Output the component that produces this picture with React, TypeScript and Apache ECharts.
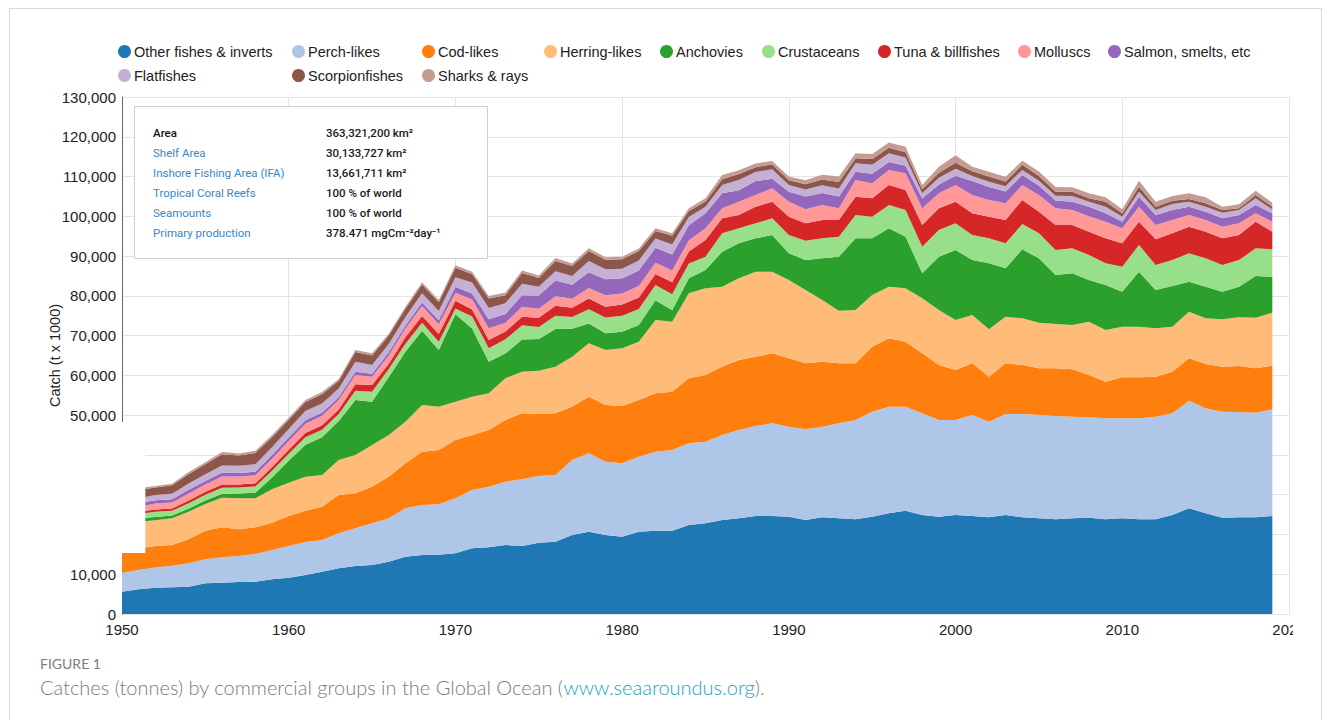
import React, { useEffect, useRef } from "react";
import * as echarts from "echarts";

const years = [
  1950, 1951, 1952, 1953, 1954, 1955, 1956, 1957, 1958, 1959,
  1960, 1961, 1962, 1963, 1964, 1965, 1966, 1967, 1968, 1969,
  1970, 1971, 1972, 1973, 1974, 1975, 1976, 1977, 1978, 1979,
  1980, 1981, 1982, 1983, 1984, 1985, 1986, 1987, 1988, 1989,
  1990, 1991, 1992, 1993, 1994, 1995, 1996, 1997, 1998, 1999,
  2000, 2001, 2002, 2003, 2004, 2005, 2006, 2007, 2008, 2009,
  2010, 2011, 2012, 2013, 2014, 2015, 2016, 2017, 2018, 2019,
];
// the axis runs one year past the data
const axisYears = [...years, 2020];

const seriesNames = [
  "Other fishes & inverts", "Perch-likes", "Cod-likes", "Herring-likes",
  "Anchovies", "Crustaceans", "Tuna & billfishes", "Molluscs",
  "Salmon, smelts, etc", "Flatfishes", "Scorpionfishes", "Sharks & rays",
];

const seriesColors = [
  "#1f77b4", "#aec7e8", "#ff7f0e", "#ffbb78", "#2ca02c", "#98df8a",
  "#d62728", "#ff9896", "#9467bd", "#c5b0d5", "#8c564b", "#c49c94",
];

const otherFishes = [
  5600, 6200, 6600, 6700, 6870, 7710, 7880, 8040, 8130, 8710,
  9130, 9800, 10640, 11480, 12060, 12320, 13160, 14410, 14830, 14900,
  15250, 16510, 16760, 17350, 17100, 17930, 18180, 19860, 20700, 19860,
  19440, 20700, 20950, 20950, 22370, 22790, 23630, 24050, 24640, 24640,
  24470, 23630, 24300, 24050, 23800, 24470, 25310, 25980, 24890, 24470,
  24890, 24640, 24300, 24890, 24300, 24050, 23800, 24050, 24220, 23800,
  24050, 23800, 23800, 24890, 26570, 25310, 24220, 24300, 24300, 24640,
];
const perchLikes = [
  4800, 4860, 5100, 5450, 5870, 6030, 6370, 6540, 6960, 7380,
  7970, 8300, 7960, 8800, 9480, 10480, 10890, 12160, 12570, 12670,
  13830, 14670, 15250, 15920, 16760, 16770, 16770, 18860, 19700, 18440,
  18440, 18860, 19860, 20280, 20540, 20540, 21370, 22210, 22630, 23300,
  22630, 22800, 22800, 23890, 24980, 26400, 26820, 26150, 25560, 24310,
  23890, 25390, 24060, 25400, 25990, 25980, 25980, 25570, 25230, 25400,
  25150, 25400, 25820, 25560, 27070, 26400, 26650, 26490, 26320, 26820,
];
const codLikes = [
  5500, 5450, 5400, 5200, 6030, 7210, 7540, 6710, 6700, 6870,
  7540, 7880, 8390, 9640, 8800, 9210, 10480, 11310, 13410, 13660,
  14670, 13820, 14250, 15510, 16590, 15590, 15500, 13410, 14240, 14250,
  14420, 14250, 14670, 14670, 16350, 16760, 17190, 17610, 17430, 17600,
  17190, 16600, 16350, 15090, 14250, 16350, 17180, 16350, 15090, 13830,
  12570, 13000, 11310, 12740, 12320, 11740, 11990, 11900, 10650, 9220,
  10310, 10310, 10050, 10480, 10650, 11150, 11320, 11570, 11150, 10980,
];
const herringLikes = [
  5000, 6710, 6500, 6700, 6960, 6710, 7460, 7790, 7290, 8390,
  8380, 8550, 7960, 8800, 9640, 10480, 10470, 10480, 11740, 10900,
  9640, 9640, 9220, 10480, 10480, 10890, 11740, 12570, 13420, 13830,
  14500, 14670, 18440, 17600, 21370, 21800, 20120, 20530, 21380, 20540,
  19690, 18440, 15510, 13240, 13410, 12990, 13000, 13410, 13830, 13830,
  12570, 12150, 11910, 11730, 11730, 11490, 11150, 11150, 13400, 12990,
  12740, 12740, 12160, 11320, 11730, 11480, 11900, 12230, 12730, 13330,
];
const anchovies = [
  600, 830, 800, 700, 800, 900, 1000, 1200, 1400, 3000,
  5500, 8000, 9500, 9800, 13830, 10900, 14600, 17600, 18700, 14250,
  22000, 17140, 7970, 6300, 8100, 8000, 9500, 7000, 5000, 4200,
  4200, 4200, 5000, 2900, 3800, 4610, 8800, 8800, 8380, 9220,
  6710, 7540, 10470, 13580, 18020, 14250, 14660, 12990, 6290, 13410,
  17610, 13830, 16590, 12160, 17360, 16170, 12320, 12990, 10500, 11320,
  8800, 13830, 9640, 10230, 7540, 7970, 6960, 7720, 10490, 9050,
];
const crustaceans = [
  900, 1090, 1300, 1200, 1300, 1400, 1500, 1500, 1600, 1700,
  1800, 1900, 1900, 1800, 2340, 2510, 2000, 2000, 2000, 2100,
  1400, 3000, 3350, 3500, 3600, 3000, 3300, 3000, 3600, 4000,
  4000, 4000, 3800, 4000, 3700, 3350, 4610, 3770, 3770, 4190,
  4610, 4860, 5030, 5030, 5870, 5450, 5870, 6700, 6700, 6700,
  6700, 6290, 6290, 6280, 6370, 6290, 6290, 6290, 6270, 5440,
  6290, 6700, 6290, 6530, 7130, 7120, 6710, 6700, 6960, 6880,
];
const tunaBillfishes = [
  400, 590, 600, 600, 700, 800, 800, 800, 800, 900,
  1000, 1100, 1100, 1100, 1600, 1680, 1300, 1600, 1700, 1900,
  2000, 1800, 2100, 2000, 2100, 2300, 2500, 2300, 2700, 2700,
  2800, 2900, 2800, 3000, 3000, 4190, 3770, 3360, 4190, 4190,
  4610, 4360, 4610, 4190, 4610, 4610, 5030, 5030, 5450, 5450,
  5450, 5450, 5450, 5870, 6030, 5440, 6280, 5860, 5860, 6290,
  5860, 5870, 6450, 6710, 6710, 6700, 6700, 6290, 6700, 4430,
];
const molluscs = [
  1300, 1260, 1500, 1500, 1800, 1800, 2000, 2000, 2000, 2100,
  2200, 2300, 2400, 2400, 2350, 2090, 2100, 2200, 2500, 2500,
  2000, 2500, 2930, 2200, 2500, 2300, 2400, 2300, 2600, 2900,
  2800, 2900, 2800, 3000, 2800, 2930, 2510, 3350, 2940, 3350,
  3770, 3520, 3770, 2930, 4190, 3770, 3770, 4190, 4190, 3780,
  4190, 4610, 4190, 4190, 3770, 4200, 4190, 3780, 3870, 4190,
  3770, 3770, 3600, 3350, 2930, 2940, 2940, 2930, 2100, 2520,
];
const salmonSmelts = [
  600, 830, 800, 800, 900, 900, 1000, 900, 900, 900,
  900, 900, 800, 700, 830, 730, 800, 800, 900, 1000,
  1500, 1500, 2300, 2200, 2900, 3300, 4000, 3500, 4000, 4000,
  3800, 3900, 3800, 4000, 3800, 3770, 3780, 2900, 3500, 2400,
  2500, 3200, 3000, 3000, 2100, 2400, 2000, 1900, 2500, 2200,
  2300, 3500, 3300, 3000, 2500, 2300, 2000, 2090, 2420, 2100,
  1680, 2520, 2520, 2520, 2090, 2090, 2090, 2100, 2090, 2100,
];
const flatfishes = [
  1100, 1260, 1300, 1400, 1600, 1700, 1800, 1800, 1900, 2000,
  2100, 2300, 2300, 2200, 2520, 2210, 2100, 2100, 2300, 2300,
  2400, 2800, 2800, 2700, 2900, 2200, 2300, 2200, 2800, 2500,
  2400, 2500, 2300, 2500, 2100, 1680, 2090, 2530, 2300, 2400,
  1700, 1800, 2000, 2000, 2090, 2300, 2200, 2100, 1300, 1700,
  1800, 1300, 1300, 1300, 1300, 1300, 1200, 1420, 1260, 1670,
  1260, 1260, 1260, 1510, 1260, 1260, 1420, 1260, 1680, 1000,
];
const scorpionfishes = [
  1500, 2100, 1900, 2100, 2400, 2500, 2800, 2600, 2800, 2500,
  2300, 2300, 2300, 1900, 2400, 2400, 2100, 2100, 2200, 2200,
  2400, 2100, 2400, 2000, 2700, 2200, 2600, 2500, 2500, 2400,
  2400, 2400, 1900, 2200, 1500, 1300, 1430, 1500, 1200, 1200,
  1200, 1300, 1400, 1600, 1300, 1400, 1400, 1300, 1000, 1300,
  1500, 1200, 1300, 1200, 1300, 1200, 1000, 1100, 840, 1260,
  840, 1250, 830, 830, 670, 840, 680, 410, 840, 670,
];
const sharksRays = [
  300, 420, 400, 400, 450, 500, 600, 500, 600, 550,
  500, 500, 550, 500, 530, 530, 500, 500, 550, 550,
  600, 600, 600, 650, 660, 650, 700, 650, 700, 650,
  650, 650, 650, 650, 700, 800, 1090, 1000, 900, 900,
  900, 1000, 1200, 1400, 1210, 1300, 1300, 1400, 1100, 1500,
  1900, 1100, 1200, 1200, 1000, 1100, 1200, 1090, 1260, 1090,
  1000, 1510, 1260, 1180, 1430, 1510, 830, 1010, 1090, 1010,
];

const seriesValues = [
  otherFishes, perchLikes, codLikes, herringLikes, anchovies, crustaceans,
  tunaBillfishes, molluscs, salmonSmelts, flatfishes, scorpionfishes, sharksRays,
];

// legend layout (column-aligned, two rows)
const legendLeft = [118, 292, 422, 544, 660, 762, 878, 1018, 1108, 118, 292, 422];
const legendTop = [44, 44, 44, 44, 44, 44, 44, 44, 44, 68, 68, 68];

const infoLabels = [
  "Area", "Shelf Area", "Inshore Fishing Area (IFA)", "Tropical Coral Reefs",
  "Seamounts", "Primary production",
];
const infoValues = [
  "363,321,200 km²", "30,133,727 km²", "13,661,711 km²", "100 % of world",
  "100 % of world", "378.471 mgCm⁻²day⁻¹",
];

const AX_FONT = '"Liberation Sans", Arial, Helvetica, sans-serif';
const isDecade = (_i: number, v: any) => Number(v) % 10 === 0;

export default function App() {
  const ref = useRef<HTMLDivElement>(null);

  useEffect(() => {
    if (!ref.current) return;
    const chart = echarts.init(ref.current, null, { renderer: "svg" });

    const series = seriesNames.map((name, i) => ({
      name,
      type: "line",
      stack: "total",
      symbol: "none",
      showSymbol: false,
      smooth: false,
      lineStyle: { width: 0 },
      areaStyle: { color: seriesColors[i], opacity: 1 },
      itemStyle: { color: seriesColors[i] },
      data: seriesValues[i],
    }));

    const legends = seriesNames.map((name, i) => ({
      show: true,
      data: [name],
      left: legendLeft[i],
      top: legendTop[i],
      icon: "circle",
      itemWidth: 13,
      itemHeight: 13,
      itemGap: 0,
      padding: 0,
      selectedMode: false,
      textStyle: {
        color: "#222",
        fontSize: 14.5,
        fontFamily: AX_FONT,
        padding: [0, 0, 0, -2],
      },
    }));

    chart.setOption({
      animation: false,
      backgroundColor: "#ffffff",
      grid: { left: 122, right: 42, top: 97, bottom: 106, containLabel: false },
      legend: legends,
      xAxis: {
        type: "category",
        data: axisYears.map(String),
        boundaryGap: false,
        axisLine: { show: false },
        axisTick: { show: false },
        axisLabel: {
          color: "#222",
          fontSize: 15,
          fontFamily: AX_FONT,
          margin: 8,
          interval: isDecade,
        },
        splitLine: { show: true, interval: isDecade, lineStyle: { color: "#e4e4e4", width: 1 } },
      },
      yAxis: {
        type: "value",
        min: 0,
        max: 130000,
        interval: 10000,
        name: "Catch (t x 1000)",
        nameLocation: "middle",
        nameGap: 60,
        nameMoveOverlap: false,
        nameTextStyle: { color: "#222", fontSize: 14.5, fontFamily: AX_FONT },
        axisLine: { show: true, lineStyle: { color: "#666", width: 1 } },
        axisTick: { show: false },
        axisLabel: {
          color: "#222",
          fontSize: 15,
          fontFamily: AX_FONT,
          margin: 6,
          formatter: (v: number) =>
            v >= 20000 && v <= 40000 ? "" : v.toLocaleString("en-US"),
        },
        splitLine: { show: true, lineStyle: { color: "#e4e4e4", width: 1 } },
      },
      series,
    });

    // positions derived from the axes
    const pTop = chart.convertToPixel({ gridIndex: 0 }, ["1950", 48300]) as number[];
    const p1951 = chart.convertToPixel({ gridIndex: 0 }, ["1951", 15340]) as number[];
    const p1952 = chart.convertToPixel({ gridIndex: 0 }, ["1952", 15340]) as number[];
    const pEnd = chart.convertToPixel({ gridIndex: 0 }, ["2020", 0]) as number[];
    const maskRight = p1951[0] + 0.4 * (p1952[0] - p1951[0]);

    const infoTexts: any[] = [];
    infoLabels.forEach((lab, i) => {
      infoTexts.push({
        type: "text",
        x: 153,
        y: 133 + i * 19.9,
        z: 101,
        style: {
          text: lab,
          fill: i === 0 ? "#111" : "#3a86c8",
          fontSize: 11.5,
          fontWeight: i === 0 ? 500 : 400,
          fontFamily: "Roboto, Arial, sans-serif",
          verticalAlign: "middle",
        },
      });
      infoTexts.push({
        type: "text",
        x: 326,
        y: 133 + i * 19.9,
        z: 101,
        style: {
          text: infoValues[i],
          fill: "#1a1a1a",
          fontSize: 11.5,
          fontWeight: 500,
          fontFamily: "Roboto, Arial, sans-serif",
          verticalAlign: "middle",
        },
      });
    });

    chart.setOption({
      graphic: [
        {
          id: "mask",
          type: "rect",
          z: 100,
          shape: { x: 12, y: pTop[1], width: maskRight - 12, height: p1951[1] - pTop[1] },
          style: { fill: "#ffffff" },
        },
        {
          id: "clip2020",
          type: "rect",
          z: 100,
          shape: { x: pEnd[0] + 4, y: pEnd[1] + 1, width: 40, height: 30 },
          style: { fill: "#ffffff" },
        },
        {
          id: "infobox",
          type: "rect",
          z: 100,
          shape: { x: 134.5, y: 106.5, width: 353, height: 152 },
          style: { fill: "#ffffff", stroke: "#cfcfcf", lineWidth: 1 },
        },
        ...infoTexts,
        {
          id: "figlabel",
          type: "text",
          x: 40,
          y: 663,
          z: 101,
          style: {
            text: "FIGURE 1",
            fill: "#7d7d7d",
            fontSize: 14,
            fontFamily: "Lato, 'Open Sans', sans-serif",
            verticalAlign: "middle",
          },
        },
        {
          id: "caption",
          type: "text",
          x: 40,
          y: 687,
          z: 101,
          style: {
            text: "{a|Catches (tonnes) by commercial groups in the Global Ocean (}{b|www.seaaroundus.org}{a|).}",
            verticalAlign: "middle",
            rich: {
              a: { fill: "#7a7a7a", color: "#7a7a7a", fontSize: 20, fontWeight: 300, fontFamily: "Lato, 'Open Sans', sans-serif" },
              b: { fill: "#17a2c6", color: "#17a2c6", fontSize: 20, fontWeight: 300, fontFamily: "Lato, 'Open Sans', sans-serif" },
            },
          },
        },
      ],
    });

    return () => chart.dispose();
  }, []);

  return (
    <div style={{ position: "absolute", left: 0, top: 0, width: 1331, height: 720, background: "#fff", overflow: "hidden" }}>
      <div ref={ref} style={{ position: "absolute", left: 0, top: 0, width: 1331, height: 720 }} />
      <div
        style={{
          position: "absolute",
          left: 9,
          top: 8,
          width: 1311,
          height: 740,
          border: "1px solid #d8d8d8",
          pointerEvents: "none",
        }}
      />
    </div>
  );
}
